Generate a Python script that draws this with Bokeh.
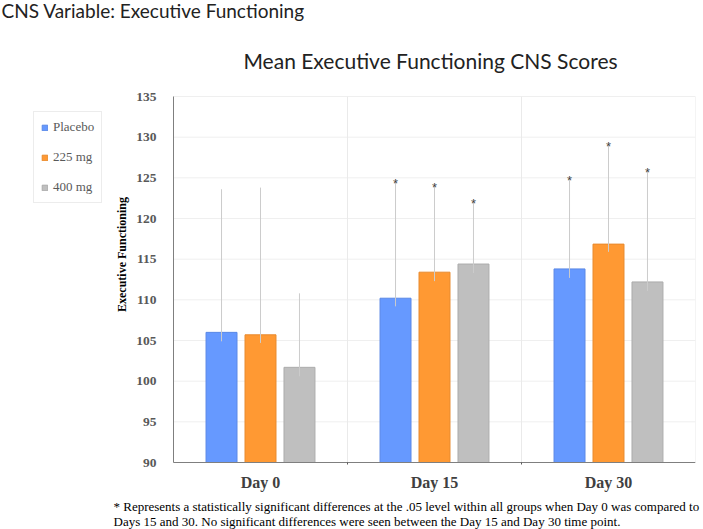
import numpy as np
from bokeh.plotting import figure
from bokeh.models import (ColumnDataSource, Range1d, Label, Legend, LegendItem, FixedTicker)
from bokeh.core.properties import value
from bokeh.embed import file_html
from bokeh.resources import INLINE

# ---- data ----
days = ["Day 0", "Day 15", "Day 30"]
groups = ["Placebo", "225 mg", "400 mg"]
placebo_mean = [106.0, 110.2, 113.8]
mg225_mean = [105.7, 113.4, 116.85]
mg400_mean = [101.7, 114.4, 112.2]
placebo_low = [104.9, 109.2, 112.7]
placebo_high = [123.6, 124.4, 124.7]
mg225_low = [104.7, 112.3, 115.9]
mg225_high = [123.8, 123.9, 128.9]
mg400_low = [100.6, 113.3, 111.1]
mg400_high = [110.8, 121.9, 125.7]
significant = [False, True, True]
y_ticks = [90, 95, 100, 105, 110, 115, 120, 125, 130, 135]
y_min, y_max = 90, 135

colors = ["#6699FF", "#FF9933", "#BFBFBF"]
edge = ["#5a88e6", "#e88a2e", "#acacac"]
offsets = [-0.224, 0.0, 0.224]
means = [placebo_mean, mg225_mean, mg400_mean]
lows = [placebo_low, mg225_low, mg400_low]
highs = [placebo_high, mg225_high, mg400_high]

# ---- layout geometry (pixels) ----
W, H = 703, 529
L, R, T, B = 33, 8, 85, 30          # canvas borders
plot_left, plot_right = 173, 695    # category area
plot_top, plot_bottom = 96, 462     # value area
n = len(days)
centers = np.arange(n) + 0.5
band_px = (plot_right - plot_left) / n
x_start = n - (plot_right - L) / band_px
px_per_unit = (plot_bottom - plot_top) / (y_max - y_min)
y_start = y_min - ((H - B) - plot_bottom) / px_per_unit
y_end = y_max + (plot_top - T) / px_per_unit

p = figure(width=W, height=H, x_range=Range1d(x_start, n), y_range=Range1d(y_start, y_end),
           output_backend="svg", toolbar_location=None,
           min_border_left=L, min_border_right=R, min_border_top=T, min_border_bottom=B)
p.outline_line_color = None
p.background_fill_color = "white"

# grid (only over the plotting area)
p.xgrid.visible = False
p.ygrid.visible = False
p.segment(x0=[0] * len(y_ticks), x1=[n] * len(y_ticks), y0=y_ticks, y1=y_ticks,
          line_color="#efefef", line_width=1)
p.segment(x0=list(range(1, n + 1)), x1=list(range(1, n + 1)), y0=[y_min] * n, y1=[y_max] * n,
          line_color="#eaeaea", line_width=1)

# y axis at the left edge of the category area
p.yaxis.fixed_location = 0
p.yaxis.bounds = (y_min, y_max)
p.yaxis.ticker = FixedTicker(ticks=y_ticks)
p.yaxis.axis_line_color = "#7f7f7f"
p.yaxis.major_tick_line_color = None
p.yaxis.minor_tick_line_color = None
p.yaxis.major_label_standoff = 11
p.yaxis.major_label_text_font = "Liberation Serif"
p.yaxis.major_label_text_font_style = "bold"
p.yaxis.major_label_text_font_size = "13.5px"
p.yaxis.major_label_text_color = "#595959"

# x axis with category labels, at the bottom of the value area
p.xaxis.fixed_location = y_min
p.xaxis.bounds = (0, n)
p.xaxis.ticker = FixedTicker(ticks=list(centers), minor_ticks=list(range(1, n)))
p.xaxis.major_label_overrides = {float(c): d for c, d in zip(centers, days)}
p.xaxis.axis_line_color = "#7f7f7f"
p.xaxis.major_tick_line_color = None
p.xaxis.minor_tick_line_color = "#595959"
p.xaxis.minor_tick_in = 0
p.xaxis.minor_tick_out = 2
p.xaxis.major_label_standoff = 5
p.xaxis.major_label_text_font = "Liberation Serif"
p.xaxis.major_label_text_font_style = "bold"
p.xaxis.major_label_text_font_size = "16px"
p.xaxis.major_label_text_color = "#404040"

items = []
for i, g in enumerate(groups):
    xs = centers + offsets[i]
    src = ColumnDataSource(dict(x=xs, mean=means[i], low=lows[i], high=highs[i],
                                star=["*" if s else "" for s in significant]))
    r = p.vbar(x="x", top="mean", bottom=y_min, width=0.178,
               source=src, fill_color=colors[i], line_color=edge[i], line_width=1)
    p.segment(x0="x", x1="x", y0="low", y1="high", source=src, line_color="#cccccc", line_width=1)
    p.text(x="x", y="high", text="star", source=src,
           text_align="center", text_baseline="bottom", y_offset=8,
           text_font=value("Liberation Sans"), text_font_size="13px", text_color="#404040")
    items.append(LegendItem(label=g, renderers=[r]))

legend = Legend(items=items, location=(0, (H - B) - 203), orientation="vertical",
                glyph_width=7, glyph_height=7, label_height=14, spacing=14, padding=7,
                margin=0, label_standoff=5, border_line_color="#d9d9d9",
                label_text_font="Liberation Serif", label_text_font_size="13px",
                label_text_color="#595959", background_fill_color="white")
p.add_layout(legend, "center")

# y axis title (inside the extended frame)
p.add_layout(Label(x=121, y=254, x_units="canvas", y_units="canvas", text="Executive Functioning",
                   angle=np.pi / 2, text_font="Liberation Serif", text_font_style="bold",
                   text_font_size="12px", text_color="#000000",
                   text_align="center", text_baseline="middle"))

# texts outside the frame (placed in the top panel, positioned in canvas pixels)
def add_text(**kw):
    p.add_layout(Label(x_units="canvas", y_units="canvas", **kw), "above")

add_text(x=1, y=-2, text="CNS Variable: Executive Functioning",
         text_font="Lato", text_font_size="19px", text_color="#222222", text_baseline="top")
add_text(x=430, y=60, text="Mean Executive Functioning CNS Scores",
         text_font="Lato", text_font_size="21px", text_color="#222222",
         text_align="center", text_baseline="middle")
add_text(x=113, y=506,
         text="* Represents a statistically significant differences at the .05 level within all groups when Day 0 was compared to",
         text_font="Liberation Serif", text_font_size="13px", text_color="#000000", text_baseline="middle")
add_text(x=113, y=521,
         text="Days 15 and 30. No significant differences were seen between the Day 15 and Day 30 time point.",
         text_font="Liberation Serif", text_font_size="13px", text_color="#000000", text_baseline="middle")

open("out.html", "w").write(file_html(p, INLINE))
